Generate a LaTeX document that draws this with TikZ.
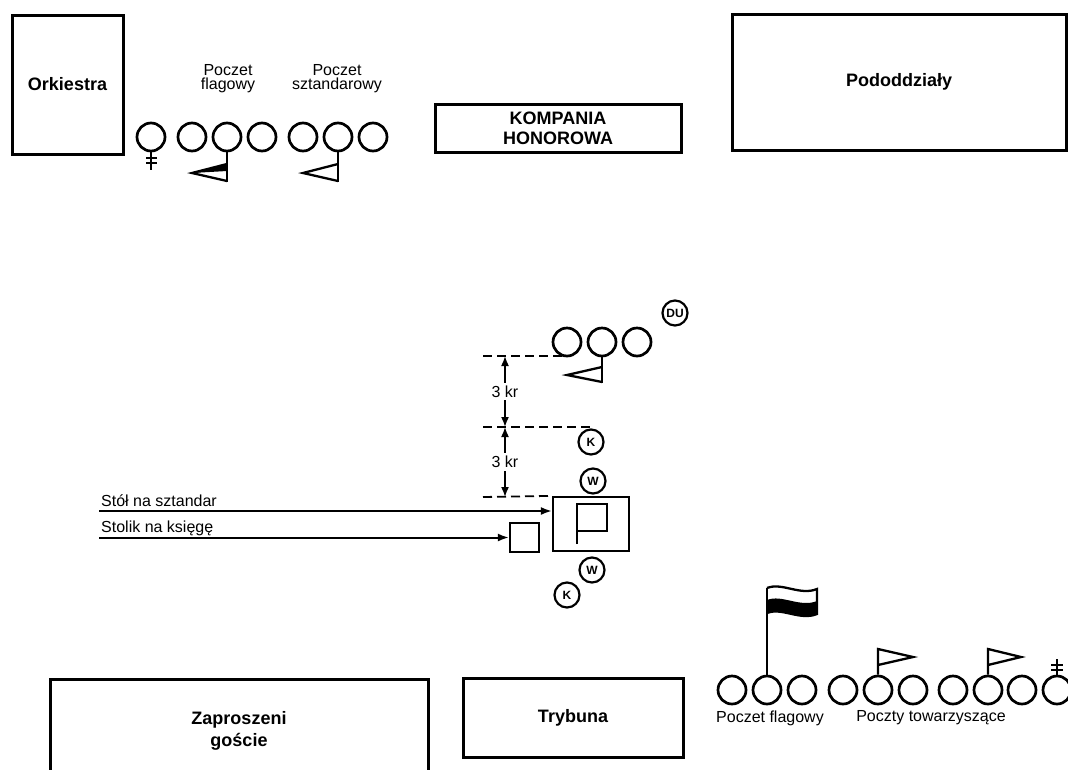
\documentclass[tikz,border=0pt]{standalone}
\usepackage{fontspec}
\setmainfont{Liberation Sans}
\usetikzlibrary{arrows.meta}

\begin{document}
\begin{tikzpicture}[x=1pt,y=-1pt,
  zone/.style={draw,line width=3pt,font=\fontsize{18}{20}\selectfont\bfseries,align=center,inner sep=0pt},
  zonetext/.style={font=\fontsize{18}{22}\selectfont\bfseries,align=center,inner sep=0pt},
  person/.style={draw,circle,line width=2.7pt,minimum size=28pt,inner sep=0pt},
  badge/.style={draw,circle,line width=2.2pt,minimum size=25pt,inner sep=0pt,font=\fontsize{12}{12}\selectfont\bfseries},
  lbl/.style={font=\fontsize{16}{14}\selectfont,align=center,inner sep=0pt},
  desk/.style={draw,line width=2.2pt,inner sep=0pt},
  guide/.style={dash pattern=on 9pt off 5pt,line width=1.8pt},
  pointer/.style={line width=2pt,-{Latex[length=11pt,width=8pt]}},
  dimline/.style={line width=1.6pt,{Latex[length=10pt,width=8pt]}-{Latex[length=10pt,width=8pt]}},
  pole/.style={line width=2.3pt,line join=miter}
]

\useasboundingbox (0,0) rectangle (1068,769);

% Boxes
\node[zone,minimum width=111pt,minimum height=139pt] (orkiestra) at (67.5,84.5) {Orkiestra};
\node[zone,minimum width=246pt,minimum height=48pt] (kompania) at (558,128) {KOMPANIA\\HONOROWA};
\node[zone,minimum width=334pt,minimum height=136pt] (pododzialy) at (899,82) {Pododdziały};
\node[zone,minimum width=378pt,minimum height=130pt,anchor=north] (goscie) at (239,678) {};
\node[zonetext] (goscietxt) at (239,731) {Zaproszeni\\goście};
\node[zone,minimum width=220pt,minimum height=79pt] (trybuna) at (573,717.5) {Trybuna};

% Top row
\node[person] (kob) at (151,137) {};
\draw[pole] (kob.south) -- ++(0,18);
\draw[pole] (146,158) -- (157,158) (146,163) -- (157,163);

\foreach \n/\x in {1/192,2/227,3/262} \node[person] (pf\n) at (\x,137) {};
\foreach \n/\x in {1/303,2/338,3/373} \node[person] (ps\n) at (\x,137) {};

\draw[pole] (pf2.south) -- (227,182);
\fill (192,173) -- (227,164) -- (227,171) -- cycle;
\draw[pole] (227,164) -- (192,173) -- (227,181);

\draw[pole] (ps2.south) -- (338,182);
\draw[pole] (338,164) -- (303,173) -- (338,181);

\node[lbl] (pfl) at (228,79) {Poczet\\flagowy};
\node[lbl] (psl) at (337,79) {Poczet\\sztandarowy};

% Centre
\node[badge] (du) at (675,313) {DU};
\foreach \n/\x in {1/567,2/602,3/637} \node[person] (pc\n) at (\x,342) {};
\draw[pole] (pc2.south) -- (602,383);
\draw[pole] (602,367) -- (567,375) -- (602,382);

% Tables
\node[desk,minimum width=76pt,minimum height=54pt] (stol) at (591,524) {};
\draw[desk] (577,544) -- (577,504) -- (607,504) -- (607,531) -- (577,531);
\node[desk,minimum size=29pt] (stolik) at (524.5,537.5) {};

\node[badge] (k1) at (591,442) {K};
\node[badge] (w1) at (593,481) {W};
\node[badge] (w2) at (592,570) {W};
\node[badge] (k2) at (567,595) {K};

% Guides
\coordinate (g1) at (483,356);
\coordinate (g2) at (483,427);
\coordinate (g3) at (483,497);
\draw[guide] (g1) -- (g1 -| pc1.south);
\draw[guide] (g2) -- (g2 -| k1.north);
\draw[guide] (g3) -- (stol.north west);

% Distances
\coordinate (m1) at (505,356);
\coordinate (m2) at (505,427);
\coordinate (m3) at (505,497);
\draw[dimline] (m1) -- node[lbl,fill=white,inner ysep=3pt] (kr1) {3 kr} (m2);
\draw[dimline] (m2) -- node[lbl,fill=white,inner ysep=3pt] (kr2) {3 kr} (m3);

% Labels
\coordinate (a1) at (99,511);
\coordinate (a2) at (99,537.5);
\draw[pointer] (a1) -- (a1 -| stol.west);
\draw[pointer] (a2) -- (stolik.west);
\node[lbl,anchor=base west] (t1) at (101,506) {Stół na sztandar};
\node[lbl,anchor=base west] (t2) at (101,532) {Stolik na księgę};

% Bottom row
\foreach \n/\x in {1/732,2/767,3/802,4/843,5/878,6/913,7/953,8/988,9/1022,10/1057}
  \node[person] (pb\n) at (\x,690) {};

\draw[pole] (pb2.north) -- (767,588);
\fill (767,600) .. controls (782,594) and (800,608) .. (817,601) -- (817,614) .. controls (800,621) and (782,607) .. (767,613) -- cycle;
\draw[pole] (767,588) .. controls (782,582) and (800,596) .. (817,589) -- (817,614) .. controls (800,621) and (782,607) .. (767,613);

\draw[pole] (pb5.north) -- (878,649) -- (913,657) -- (878,665);
\draw[pole] (pb8.north) -- (988,649) -- (1021,657) -- (988,665);

\draw[pole] (pb10.north) -- ++(0,-16);
\draw[pole] (1051,665) -- (1063,665) (1051,670) -- (1063,670);

\node[lbl] (pfb) at (770,718) {Poczet flagowy};
\node[lbl] (ptb) at (931,718) {Poczty towarzyszące};

\end{tikzpicture}
\end{document}
